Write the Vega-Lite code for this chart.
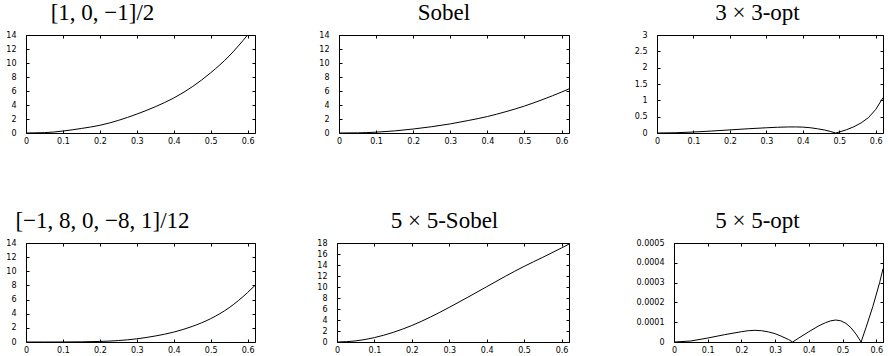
{
  "$schema": "https://vega.github.io/schema/vega-lite/v6.json",
  "padding": {"left": 5, "top": 2, "right": 0, "bottom": 0},
  "autosize": {"type": "pad"},
  "bounds": "flush",
  "spacing": 208,
  "config": {
    "view": {"stroke": null},
    "axis": {"domainColor": "black", "domainWidth": 1, "tickColor": "black", "tickSize": -3, "tickWidth": 1, "labelFont": "DejaVu Sans", "labelFontSize": 8, "labelColor": "black", "grid": false, "labelFlush": false, "labelOverlap": false},
    "axisLeft": {"labelPadding": 13},
    "axisBottom": {"labelPadding": 7},
    "title": {"font": "Liberation Serif", "fontSize": 23, "fontWeight": "normal", "color": "black", "baseline": "alphabetic", "offset": 6, "frame": "group", "anchor": "middle"},
    "line": {"color": "black", "strokeWidth": 1}
  },
  "vconcat": [
    {
      "bounds": "flush",
      "spacing": 84,
      "hconcat": [
        {
          "width": 229, "height": 98,
          "title": {"text": "[1, 0, −1]/2", "dx": -38},
          "data": {"values": [
            {"f": 0, "e": 0}, {"f": 0.05, "e": 0.05}, {"f": 0.1, "e": 0.28}, {"f": 0.15, "e": 0.65}, {"f": 0.2, "e": 1.1}, {"f": 0.25, "e": 1.8}, {"f": 0.3, "e": 2.7}, {"f": 0.35, "e": 3.75}, {"f": 0.4, "e": 5.0}, {"f": 0.45, "e": 6.6}, {"f": 0.5, "e": 8.6}, {"f": 0.55, "e": 11.0}, {"f": 0.6, "e": 14.0}, {"f": 0.62, "e": 15.3}
          ]},
          "layer": [
            {"mark": {"type": "line", "clip": true, "interpolate": "monotone"},
             "encoding": {
               "x": {"field": "f", "type": "quantitative", "title": null, "scale": {"domain": [0, 0.62], "nice": false}, "axis": {"orient": "bottom", "values": [0, 0.1, 0.2, 0.3, 0.4, 0.5, 0.6], "format": "~g"}},
               "y": {"field": "e", "type": "quantitative", "title": null, "scale": {"domain": [0, 14], "nice": false}, "axis": {"orient": "left", "values": [0, 2, 4, 6, 8, 10, 12, 14], "format": "~g"}}
             }},
            {"mark": {"type": "line", "opacity": 0, "clip": true},
             "encoding": {
               "x": {"field": "f", "type": "quantitative", "title": null, "scale": {"domain": [0, 0.62], "nice": false}, "axis": {"orient": "top", "labels": false, "values": [0, 0.1, 0.2, 0.3, 0.4, 0.5, 0.6]}},
               "y": {"field": "e", "type": "quantitative", "title": null, "scale": {"domain": [0, 14], "nice": false}, "axis": {"orient": "right", "labels": false, "values": [0, 2, 4, 6, 8, 10, 12, 14]}}
             }}
          ],
          "resolve": {"axis": {"x": "independent", "y": "independent"}}
        },
        {
          "bounds": "flush",
          "spacing": 88,
          "hconcat": [
            {
              "width": 230, "height": 98,
              "title": {"text": "Sobel", "dx": -10},
              "data": {"values": [
                {"f": 0, "e": 0}, {"f": 0.05, "e": 0.02}, {"f": 0.1, "e": 0.12}, {"f": 0.15, "e": 0.3}, {"f": 0.2, "e": 0.57}, {"f": 0.25, "e": 0.9}, {"f": 0.3, "e": 1.3}, {"f": 0.35, "e": 1.8}, {"f": 0.4, "e": 2.35}, {"f": 0.45, "e": 3.05}, {"f": 0.5, "e": 3.85}, {"f": 0.55, "e": 4.8}, {"f": 0.6, "e": 5.85}, {"f": 0.62, "e": 6.3}
              ]},
              "layer": [
                {"mark": {"type": "line", "clip": true, "interpolate": "monotone"},
                 "encoding": {
                   "x": {"field": "f", "type": "quantitative", "title": null, "scale": {"domain": [0, 0.62], "nice": false}, "axis": {"orient": "bottom", "values": [0, 0.1, 0.2, 0.3, 0.4, 0.5, 0.6], "format": "~g"}},
                   "y": {"field": "e", "type": "quantitative", "title": null, "scale": {"domain": [0, 14], "nice": false}, "axis": {"orient": "left", "values": [0, 2, 4, 6, 8, 10, 12, 14], "format": "~g"}}
                 }},
                {"mark": {"type": "line", "opacity": 0, "clip": true},
                 "encoding": {
                   "x": {"field": "f", "type": "quantitative", "title": null, "scale": {"domain": [0, 0.62], "nice": false}, "axis": {"orient": "top", "labels": false, "values": [0, 0.1, 0.2, 0.3, 0.4, 0.5, 0.6]}},
                   "y": {"field": "e", "type": "quantitative", "title": null, "scale": {"domain": [0, 14], "nice": false}, "axis": {"orient": "right", "labels": false, "values": [0, 2, 4, 6, 8, 10, 12, 14]}}
                 }}
              ],
              "resolve": {"axis": {"x": "independent", "y": "independent"}}
            },
            {
              "width": 226, "height": 98,
              "title": {"text": "3 × 3-opt", "dx": -12.5},
              "data": {"values": [
                {"f": 0, "e": 0}, {"f": 0.05, "e": 0.008}, {"f": 0.1, "e": 0.03}, {"f": 0.15, "e": 0.06}, {"f": 0.2, "e": 0.095}, {"f": 0.25, "e": 0.13}, {"f": 0.3, "e": 0.16}, {"f": 0.33, "e": 0.176}, {"f": 0.36, "e": 0.185}, {"f": 0.38, "e": 0.186}, {"f": 0.4, "e": 0.18}, {"f": 0.42, "e": 0.162}, {"f": 0.44, "e": 0.13}, {"f": 0.46, "e": 0.09}, {"f": 0.475, "e": 0.05}, {"f": 0.49, "e": 0}, {"f": 0.5, "e": 0.03}, {"f": 0.52, "e": 0.1}, {"f": 0.54, "e": 0.19}, {"f": 0.56, "e": 0.31}, {"f": 0.58, "e": 0.47}, {"f": 0.6, "e": 0.72}, {"f": 0.62, "e": 1.08}
              ]},
              "layer": [
                {"mark": {"type": "line", "clip": true},
                 "encoding": {
                   "x": {"field": "f", "type": "quantitative", "title": null, "scale": {"domain": [0, 0.62], "nice": false}, "axis": {"orient": "bottom", "values": [0, 0.1, 0.2, 0.3, 0.4, 0.5, 0.6], "format": "~g"}},
                   "y": {"field": "e", "type": "quantitative", "title": null, "scale": {"domain": [0, 3], "nice": false}, "axis": {"orient": "left", "values": [0, 0.5, 1, 1.5, 2, 2.5, 3], "format": "~g"}}
                 }},
                {"mark": {"type": "line", "opacity": 0, "clip": true},
                 "encoding": {
                   "x": {"field": "f", "type": "quantitative", "title": null, "scale": {"domain": [0, 0.62], "nice": false}, "axis": {"orient": "top", "labels": false, "values": [0, 0.1, 0.2, 0.3, 0.4, 0.5, 0.6]}},
                   "y": {"field": "e", "type": "quantitative", "title": null, "scale": {"domain": [0, 3], "nice": false}, "axis": {"orient": "right", "labels": false, "values": [0, 0.5, 1, 1.5, 2, 2.5, 3]}}
                 }}
              ],
              "resolve": {"axis": {"x": "independent", "y": "independent"}}
            }
          ]
        }
      ]
    },
    {
      "bounds": "flush",
      "spacing": 82,
      "hconcat": [
        {
          "width": 229, "height": 99,
          "title": {"text": "[−1, 8, 0, −8, 1]/12", "dx": -38},
          "data": {"values": [
            {"f": 0, "e": 0}, {"f": 0.05, "e": 0}, {"f": 0.1, "e": 0.005}, {"f": 0.15, "e": 0.025}, {"f": 0.2, "e": 0.08}, {"f": 0.25, "e": 0.2}, {"f": 0.3, "e": 0.45}, {"f": 0.35, "e": 0.85}, {"f": 0.4, "e": 1.4}, {"f": 0.45, "e": 2.2}, {"f": 0.5, "e": 3.3}, {"f": 0.55, "e": 4.85}, {"f": 0.6, "e": 7.0}, {"f": 0.62, "e": 8.0}
          ]},
          "layer": [
            {"mark": {"type": "line", "clip": true, "interpolate": "monotone"},
             "encoding": {
               "x": {"field": "f", "type": "quantitative", "title": null, "scale": {"domain": [0, 0.62], "nice": false}, "axis": {"orient": "bottom", "values": [0, 0.1, 0.2, 0.3, 0.4, 0.5, 0.6], "format": "~g"}},
               "y": {"field": "e", "type": "quantitative", "title": null, "scale": {"domain": [0, 14], "nice": false}, "axis": {"orient": "left", "values": [0, 2, 4, 6, 8, 10, 12, 14], "format": "~g"}}
             }},
            {"mark": {"type": "line", "opacity": 0, "clip": true},
             "encoding": {
               "x": {"field": "f", "type": "quantitative", "title": null, "scale": {"domain": [0, 0.62], "nice": false}, "axis": {"orient": "top", "labels": false, "values": [0, 0.1, 0.2, 0.3, 0.4, 0.5, 0.6]}},
               "y": {"field": "e", "type": "quantitative", "title": null, "scale": {"domain": [0, 14], "nice": false}, "axis": {"orient": "right", "labels": false, "values": [0, 2, 4, 6, 8, 10, 12, 14]}}
             }}
          ],
          "resolve": {"axis": {"x": "independent", "y": "independent"}}
        },
        {
          "bounds": "flush",
          "spacing": 105,
          "hconcat": [
            {
              "width": 232, "height": 99,
              "title": {"text": "5 × 5-Sobel", "dx": -8.5},
              "data": {"values": [
                {"f": 0, "e": 0}, {"f": 0.05, "e": 0.2}, {"f": 0.1, "e": 0.8}, {"f": 0.15, "e": 1.75}, {"f": 0.2, "e": 3.0}, {"f": 0.25, "e": 4.55}, {"f": 0.3, "e": 6.3}, {"f": 0.35, "e": 8.15}, {"f": 0.4, "e": 10.05}, {"f": 0.45, "e": 11.95}, {"f": 0.5, "e": 13.75}, {"f": 0.55, "e": 15.4}, {"f": 0.6, "e": 17.1}, {"f": 0.62, "e": 17.8}
              ]},
              "layer": [
                {"mark": {"type": "line", "clip": true, "interpolate": "monotone"},
                 "encoding": {
                   "x": {"field": "f", "type": "quantitative", "title": null, "scale": {"domain": [0, 0.62], "nice": false}, "axis": {"orient": "bottom", "values": [0, 0.1, 0.2, 0.3, 0.4, 0.5, 0.6], "format": "~g"}},
                   "y": {"field": "e", "type": "quantitative", "title": null, "scale": {"domain": [0, 18], "nice": false}, "axis": {"orient": "left", "values": [0, 2, 4, 6, 8, 10, 12, 14, 16, 18], "format": "~g"}}
                 }},
                {"mark": {"type": "line", "opacity": 0, "clip": true},
                 "encoding": {
                   "x": {"field": "f", "type": "quantitative", "title": null, "scale": {"domain": [0, 0.62], "nice": false}, "axis": {"orient": "top", "labels": false, "values": [0, 0.1, 0.2, 0.3, 0.4, 0.5, 0.6]}},
                   "y": {"field": "e", "type": "quantitative", "title": null, "scale": {"domain": [0, 18], "nice": false}, "axis": {"orient": "right", "labels": false, "values": [0, 2, 4, 6, 8, 10, 12, 14, 16, 18]}}
                 }}
              ],
              "resolve": {"axis": {"x": "independent", "y": "independent"}}
            },
            {
              "width": 209, "height": 99,
              "title": {"text": "5 × 5-opt", "dx": -21},
              "data": {"values": [
                {"f": 0, "e": 0}, {"f": 0.05, "e": 0.000005}, {"f": 0.1, "e": 0.00002}, {"f": 0.15, "e": 0.000037}, {"f": 0.2, "e": 0.000052}, {"f": 0.22, "e": 0.000057}, {"f": 0.24, "e": 0.000059}, {"f": 0.26, "e": 0.000057}, {"f": 0.28, "e": 0.000051}, {"f": 0.3, "e": 0.000042}, {"f": 0.32, "e": 0.000028}, {"f": 0.34, "e": 0.000012}, {"f": 0.352, "e": 0}, {"f": 0.37, "e": 0.00002}, {"f": 0.4, "e": 0.000052}, {"f": 0.43, "e": 0.000082}, {"f": 0.45, "e": 0.000098}, {"f": 0.465, "e": 0.000107}, {"f": 0.48, "e": 0.000111}, {"f": 0.495, "e": 0.000107}, {"f": 0.51, "e": 0.000094}, {"f": 0.525, "e": 0.000072}, {"f": 0.54, "e": 0.00004}, {"f": 0.555, "e": 0}, {"f": 0.57, "e": 0.000075}, {"f": 0.59, "e": 0.00018}, {"f": 0.61, "e": 0.0003}, {"f": 0.62, "e": 0.00037}
              ]},
              "layer": [
                {"mark": {"type": "line", "clip": true},
                 "encoding": {
                   "x": {"field": "f", "type": "quantitative", "title": null, "scale": {"domain": [0, 0.62], "nice": false}, "axis": {"orient": "bottom", "values": [0, 0.1, 0.2, 0.3, 0.4, 0.5, 0.6], "format": "~g"}},
                   "y": {"field": "e", "type": "quantitative", "title": null, "scale": {"domain": [0, 0.0005], "nice": false}, "axis": {"orient": "left", "values": [0, 0.0001, 0.0002, 0.0003, 0.0004, 0.0005], "format": "~g"}}
                 }},
                {"mark": {"type": "line", "opacity": 0, "clip": true},
                 "encoding": {
                   "x": {"field": "f", "type": "quantitative", "title": null, "scale": {"domain": [0, 0.62], "nice": false}, "axis": {"orient": "top", "labels": false, "values": [0, 0.1, 0.2, 0.3, 0.4, 0.5, 0.6]}},
                   "y": {"field": "e", "type": "quantitative", "title": null, "scale": {"domain": [0, 0.0005], "nice": false}, "axis": {"orient": "right", "labels": false, "values": [0, 0.0001, 0.0002, 0.0003, 0.0004, 0.0005]}}
                 }}
              ],
              "resolve": {"axis": {"x": "independent", "y": "independent"}}
            }
          ]
        }
      ]
    }
  ]
}
